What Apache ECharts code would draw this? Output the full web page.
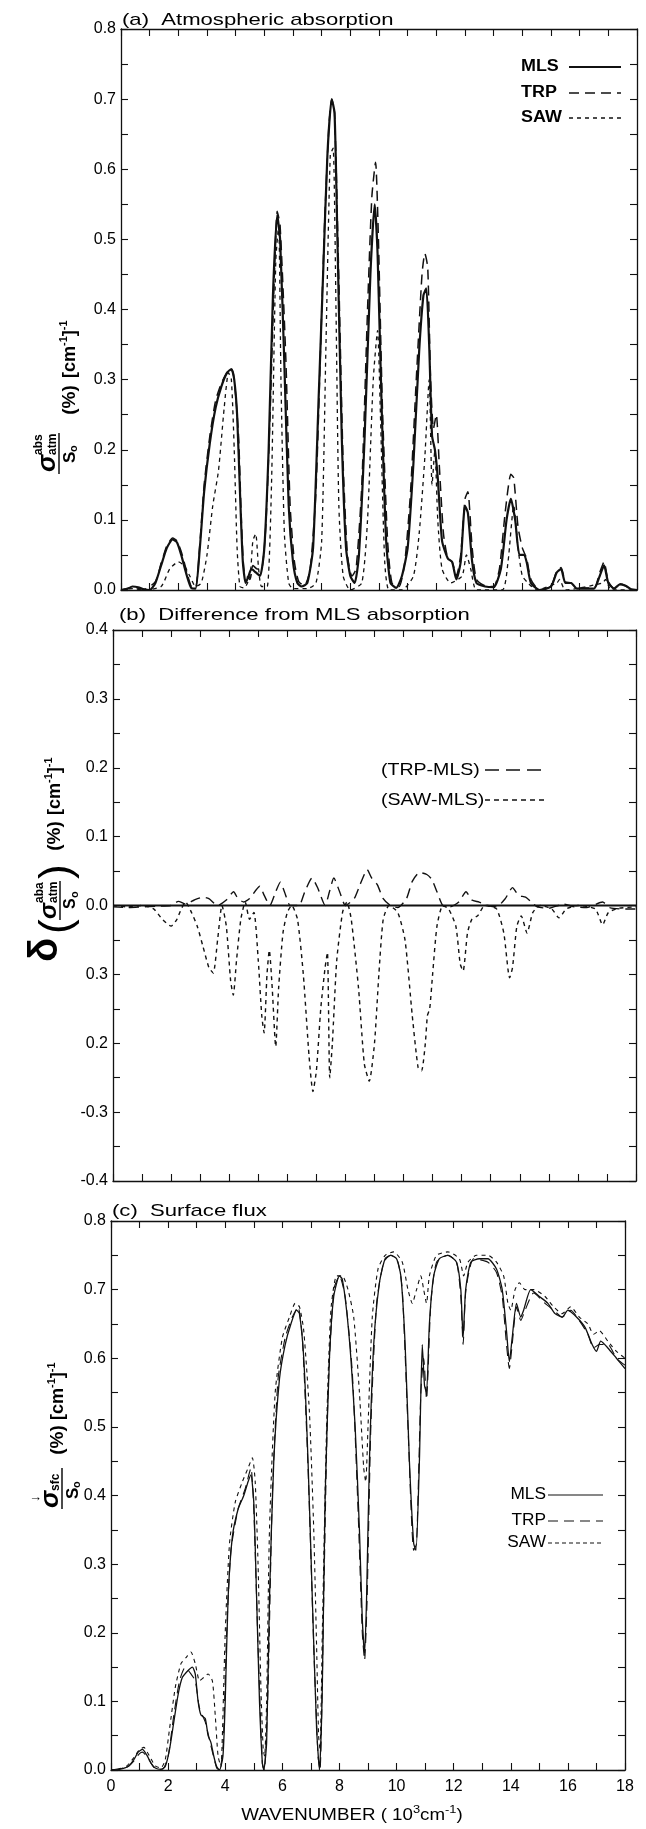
<!DOCTYPE html>
<html><head><meta charset="utf-8">
<script src="https://cdn.jsdelivr.net/npm/echarts/dist/echarts.min.js"></script>
<style>html,body{margin:0;padding:0;background:#fff}#c{width:646px;height:1829px}</style>
</head><body><div id="c"></div>
<script>
// ---------------- DATA ----------------
const xTickLabels = ['0','2','4','6','8','10','12','14','16','18'];
const yTickLabelsA = ['0.0','0.1','0.2','0.3','0.4','0.5','0.6','0.7','0.8'];
const yTickLabelsB = ['-0.4','-0.3','0.2','0.3','0.0','0.1','0.2','0.3','0.4'];
const yTickLabelsC = ['0.0','0.1','0.2','0.3','0.4','0.5','0.6','0.7','0.8'];

// (a) atmospheric absorption  [wavenumber (10^3 cm-1), value]
const mlsA = [[0,0],[0.2,0.001],[0.4,0.005],[0.6,0.004],[0.8,0.001],[1.0,0],[1.2,0.01],[1.4,0.035],[1.6,0.06],[1.8,0.072],[1.95,0.068],[2.1,0.05],[2.3,0.02],[2.45,0.003],[2.6,0.002],[2.75,0.06],[2.9,0.14],[3.1,0.21],[3.3,0.26],[3.5,0.29],[3.7,0.31],[3.85,0.315],[3.95,0.3],[4.05,0.25],[4.15,0.14],[4.25,0.04],[4.35,0.01],[4.45,0.02],[4.55,0.03],[4.7,0.025],[4.85,0.02],[5.0,0.06],[5.15,0.2],[5.3,0.42],[5.45,0.535],[5.55,0.5],[5.7,0.32],[5.85,0.12],[6.0,0.04],[6.15,0.01],[6.3,0.005],[6.5,0.01],[6.7,0.06],[6.9,0.28],[7.05,0.45],[7.2,0.62],[7.35,0.7],[7.45,0.68],[7.55,0.5],[7.7,0.22],[7.85,0.06],[8.0,0.02],[8.15,0.01],[8.3,0.05],[8.5,0.22],[8.7,0.45],[8.85,0.55],[8.95,0.48],[9.1,0.25],[9.25,0.07],[9.4,0.01],[9.6,0.003],[9.8,0.02],[10.0,0.06],[10.2,0.18],[10.4,0.34],[10.55,0.42],[10.65,0.43],[10.75,0.35],[10.85,0.22],[10.95,0.2],[11.05,0.16],[11.2,0.07],[11.4,0.045],[11.55,0.04],[11.7,0.015],[11.85,0.04],[12.0,0.12],[12.1,0.11],[12.25,0.04],[12.4,0.01],[12.7,0.005],[13.0,0.004],[13.25,0.03],[13.45,0.1],[13.6,0.13],[13.75,0.1],[13.9,0.05],[14.05,0.05],[14.15,0.04],[14.3,0.01],[14.6,0],[15.0,0.005],[15.2,0.025],[15.35,0.03],[15.5,0.01],[15.7,0.01],[15.9,0.002],[16.5,0.002],[16.7,0.02],[16.85,0.035],[17.0,0.01],[17.2,0.002],[17.4,0.008],[17.6,0.006],[17.8,0.001],[18,0]];
const trpA = [[0,0],[0.4,0.004],[0.8,0.001],[1.2,0.012],[1.4,0.038],[1.6,0.063],[1.8,0.074],[1.95,0.07],[2.1,0.055],[2.3,0.025],[2.45,0.005],[2.6,0.003],[2.75,0.065],[2.9,0.15],[3.1,0.22],[3.3,0.27],[3.5,0.295],[3.7,0.31],[3.85,0.315],[3.95,0.3],[4.1,0.22],[4.2,0.1],[4.3,0.025],[4.5,0.015],[4.6,0.035],[4.75,0.03],[4.9,0.03],[5.05,0.09],[5.2,0.25],[5.35,0.45],[5.45,0.54],[5.55,0.52],[5.75,0.33],[5.9,0.12],[6.05,0.04],[6.2,0.012],[6.4,0.006],[6.6,0.03],[6.8,0.14],[6.95,0.33],[7.1,0.52],[7.25,0.66],[7.35,0.7],[7.45,0.68],[7.6,0.44],[7.75,0.18],[7.9,0.05],[8.05,0.02],[8.2,0.03],[8.4,0.15],[8.6,0.4],[8.75,0.56],[8.88,0.61],[8.98,0.5],[9.12,0.26],[9.3,0.07],[9.45,0.01],[9.7,0.005],[9.9,0.04],[10.1,0.14],[10.3,0.3],[10.5,0.45],[10.6,0.48],[10.7,0.46],[10.8,0.3],[10.9,0.23],[11.0,0.25],[11.1,0.18],[11.25,0.08],[11.4,0.045],[11.55,0.04],[11.7,0.02],[11.85,0.05],[12.0,0.13],[12.1,0.14],[12.25,0.06],[12.4,0.015],[12.7,0.006],[13.0,0.005],[13.2,0.03],[13.4,0.11],[13.6,0.165],[13.7,0.16],[13.85,0.09],[14.0,0.06],[14.15,0.045],[14.3,0.015],[14.6,0],[15.0,0.005],[15.2,0.027],[15.35,0.032],[15.5,0.012],[15.7,0.01],[15.9,0.003],[16.5,0.003],[16.7,0.025],[16.85,0.04],[17.0,0.012],[17.2,0.002],[17.4,0.009],[17.6,0.006],[17.8,0.001],[18,0]];
const sawA = [[0,0],[0.4,0.002],[0.8,0],[1.4,0.005],[1.7,0.03],[2.0,0.04],[2.2,0.035],[2.4,0.02],[2.6,0.005],[2.8,0.01],[3.0,0.05],[3.2,0.12],[3.4,0.17],[3.6,0.26],[3.75,0.31],[3.85,0.3],[3.95,0.2],[4.05,0.06],[4.15,0.005],[4.3,0.003],[4.5,0.02],[4.6,0.07],[4.7,0.08],[4.8,0.03],[4.9,0.005],[5.1,0.005],[5.25,0.15],[5.4,0.47],[5.5,0.52],[5.58,0.3],[5.7,0.08],[5.85,0.01],[6.0,0.002],[6.5,0.002],[6.8,0.01],[7.0,0.07],[7.15,0.35],[7.3,0.62],[7.4,0.63],[7.5,0.4],[7.6,0.12],[7.75,0.02],[8.0,0],[8.4,0.01],[8.6,0.1],[8.8,0.3],[8.95,0.37],[9.05,0.25],[9.2,0.04],[9.35,0],[9.8,0],[10.2,0.02],[10.4,0.08],[10.6,0.19],[10.75,0.3],[10.85,0.15],[10.95,0.2],[11.05,0.1],[11.2,0.03],[11.5,0.01],[11.9,0.02],[12.05,0.05],[12.2,0.03],[12.4,0],[13.3,0],[13.5,0.04],[13.7,0.12],[13.85,0.06],[14.0,0.02],[14.2,0.01],[14.5,0],[15.2,0.01],[15.3,0.015],[15.5,0],[16.8,0.01],[16.9,0.015],[17.1,0],[18,0]];

// (b) differences from MLS
const trpMinusMls = [[0,-0.002],[0.5,-0.003],[1.0,-0.002],[1.5,-0.001],[2.0,0.0],[2.25,0.006],[2.5,0.002],[2.8,0.008],[3.1,0.012],[3.3,0.01],[3.6,0.0],[3.9,0.008],[4.15,0.02],[4.3,0.01],[4.5,0.005],[4.7,0.01],[5.05,0.028],[5.2,0.015],[5.4,0.0],[5.6,0.02],[5.76,0.034],[5.9,0.02],[6.1,0.0],[6.4,0.0],[6.6,0.02],[6.85,0.04],[7.05,0.025],[7.3,0.0],[7.45,0.02],[7.6,0.04],[7.8,0.02],[8.0,0.0],[8.3,0.01],[8.5,0.03],[8.75,0.052],[8.9,0.04],[9.1,0.03],[9.3,0.01],[9.55,0.0],[9.8,-0.003],[10.1,0.01],[10.3,0.035],[10.55,0.048],[10.8,0.045],[10.97,0.038],[11.15,0.02],[11.35,0.0],[11.6,-0.002],[11.9,0.005],[12.15,0.02],[12.35,0.008],[12.6,0.005],[12.9,0.0],[13.2,-0.002],[13.5,0.01],[13.75,0.026],[13.95,0.015],[14.2,0.012],[14.4,0.005],[14.6,-0.002],[15.0,-0.004],[15.5,0.002],[15.9,-0.002],[16.3,-0.003],[16.85,0.005],[17.1,-0.003],[17.5,-0.005],[18,-0.005]];
const sawMinusMls = [[0,0],[0.5,-0.002],[1.0,0],[1.4,-0.005],[1.7,-0.02],[2.0,-0.03],[2.2,-0.02],[2.35,-0.005],[2.5,0.005],[2.7,-0.01],[2.9,-0.03],[3.1,-0.06],[3.3,-0.09],[3.45,-0.098],[3.6,-0.05],[3.75,0],[3.9,-0.03],[4.05,-0.11],[4.14,-0.13],[4.25,-0.08],[4.4,-0.02],[4.55,0.005],[4.7,-0.02],[4.85,-0.01],[5.0,-0.08],[5.12,-0.16],[5.2,-0.185],[5.3,-0.1],[5.38,-0.065],[5.48,-0.12],[5.6,-0.205],[5.7,-0.12],[5.85,-0.04],[6.0,-0.01],[6.15,0],[6.35,-0.02],[6.55,-0.1],[6.75,-0.22],[6.88,-0.27],[7.0,-0.24],[7.15,-0.15],[7.3,-0.09],[7.38,-0.068],[7.46,-0.25],[7.55,-0.2],[7.7,-0.08],[7.9,-0.01],[8.05,0.005],[8.2,-0.02],[8.45,-0.12],[8.65,-0.23],[8.82,-0.255],[9.0,-0.2],[9.15,-0.1],[9.3,-0.02],[9.5,0.0],[9.8,-0.01],[10.05,-0.05],[10.3,-0.16],[10.5,-0.235],[10.62,-0.24],[10.75,-0.2],[10.82,-0.16],[10.9,-0.15],[11.0,-0.1],[11.15,-0.03],[11.35,0],[11.55,-0.005],[11.8,-0.03],[11.95,-0.085],[12.05,-0.095],[12.2,-0.04],[12.35,-0.02],[12.55,-0.015],[12.8,0],[13.2,-0.005],[13.45,-0.04],[13.65,-0.105],[13.75,-0.09],[13.9,-0.03],[14.05,-0.015],[14.25,-0.04],[14.45,-0.01],[14.7,0],[15.1,-0.005],[15.35,-0.018],[15.6,-0.005],[16.0,0],[16.6,-0.005],[16.85,-0.028],[17.05,-0.01],[17.4,-0.004],[18,-0.002]];
const zeroB = [[0,0],[18,0]];

// (c) surface flux
const mlsC = [[0,0],[0.3,0.001],[0.6,0.005],[0.8,0.015],[0.95,0.026],[1.1,0.03],[1.25,0.022],[1.4,0.01],[1.55,0.003],[1.75,0.001],[1.9,0.005],[2.05,0.03],[2.2,0.07],[2.35,0.11],[2.5,0.135],[2.7,0.145],[2.85,0.15],[2.95,0.14],[3.05,0.1],[3.15,0.08],[3.3,0.075],[3.4,0.05],[3.5,0.04],[3.6,0.02],[3.7,0.005],[3.8,0],[3.92,0.02],[4.0,0.1],[4.1,0.25],[4.25,0.34],[4.45,0.38],[4.65,0.4],[4.8,0.42],[4.9,0.43],[5.0,0.39],[5.1,0.25],[5.2,0.1],[5.3,0.01],[5.35,0],[5.45,0.04],[5.55,0.25],[5.7,0.45],[5.9,0.57],[6.1,0.62],[6.3,0.65],[6.5,0.67],[6.6,0.665],[6.75,0.6],[6.9,0.45],[7.05,0.25],[7.2,0.06],[7.3,0],[7.4,0.12],[7.5,0.4],[7.65,0.6],[7.8,0.69],[8.0,0.72],[8.1,0.715],[8.25,0.67],[8.4,0.6],[8.55,0.5],[8.7,0.35],[8.8,0.22],[8.88,0.17],[8.95,0.25],[9.05,0.45],[9.2,0.62],[9.4,0.71],[9.6,0.745],[9.8,0.75],[10.0,0.745],[10.15,0.72],[10.3,0.62],[10.45,0.45],[10.6,0.33],[10.68,0.32],[10.8,0.45],[10.9,0.62],[10.98,0.56],[11.05,0.55],[11.15,0.65],[11.3,0.72],[11.5,0.745],[11.8,0.75],[12.1,0.74],[12.25,0.7],[12.33,0.63],[12.42,0.7],[12.6,0.74],[12.9,0.745],[13.2,0.745],[13.5,0.73],[13.7,0.7],[13.85,0.64],[13.95,0.595],[14.05,0.63],[14.2,0.68],[14.35,0.66],[14.45,0.67],[14.7,0.7],[15.0,0.69],[15.3,0.68],[15.55,0.665],[15.8,0.66],[16.0,0.67],[16.3,0.66],[16.6,0.645],[16.85,0.62],[17.0,0.61],[17.15,0.625],[17.4,0.615],[17.7,0.6],[18,0.585]];
const trpC = [[0,0],[0.6,0.005],[0.8,0.013],[1.0,0.024],[1.1,0.026],[1.3,0.017],[1.5,0.004],[1.8,0.001],[2.0,0.02],[2.2,0.08],[2.4,0.13],[2.6,0.15],[2.8,0.14],[2.95,0.13],[3.1,0.09],[3.3,0.07],[3.5,0.035],[3.7,0.003],[3.8,0],[3.92,0.03],[4.05,0.2],[4.2,0.32],[4.45,0.38],[4.7,0.41],[4.9,0.44],[5.0,0.38],[5.15,0.18],[5.3,0.01],[5.37,0],[5.5,0.12],[5.65,0.4],[5.85,0.57],[6.1,0.63],[6.35,0.66],[6.55,0.675],[6.7,0.63],[6.9,0.44],[7.1,0.18],[7.25,0.02],[7.32,0],[7.45,0.25],[7.6,0.55],[7.8,0.7],[8.0,0.72],[8.2,0.69],[8.45,0.58],[8.65,0.38],[8.8,0.2],[8.88,0.16],[8.97,0.25],[9.1,0.5],[9.3,0.68],[9.55,0.74],[9.8,0.75],[10.05,0.74],[10.2,0.7],[10.4,0.5],[10.6,0.32],[10.7,0.33],[10.85,0.55],[10.95,0.6],[11.05,0.54],[11.2,0.68],[11.4,0.74],[11.8,0.75],[12.1,0.74],[12.25,0.69],[12.33,0.62],[12.43,0.7],[12.7,0.745],[13.2,0.74],[13.5,0.725],[13.7,0.69],[13.85,0.62],[13.95,0.585],[14.05,0.62],[14.2,0.675],[14.35,0.655],[14.5,0.67],[14.8,0.695],[15.2,0.68],[15.5,0.67],[15.8,0.66],[16.1,0.67],[16.4,0.655],[16.7,0.635],[16.9,0.615],[17.1,0.62],[17.4,0.62],[17.7,0.6],[18,0.59]];
const sawC = [[0,0],[0.5,0.004],[0.8,0.018],[1.0,0.03],[1.15,0.033],[1.35,0.02],[1.55,0.006],[1.75,0.003],[1.9,0.015],[2.05,0.06],[2.25,0.12],[2.45,0.155],[2.65,0.165],[2.8,0.172],[2.95,0.155],[3.1,0.13],[3.25,0.135],[3.4,0.14],[3.55,0.13],[3.65,0.08],[3.75,0.02],[3.85,0.005],[3.9,0.05],[4.0,0.2],[4.15,0.33],[4.35,0.39],[4.6,0.42],[4.8,0.44],[4.95,0.455],[5.05,0.42],[5.15,0.3],[5.25,0.12],[5.33,0.03],[5.38,0.02],[5.45,0.1],[5.55,0.35],[5.75,0.55],[6.0,0.63],[6.25,0.66],[6.45,0.68],[6.6,0.675],[6.75,0.64],[6.95,0.52],[7.1,0.35],[7.2,0.18],[7.27,0.05],[7.32,0.03],[7.4,0.2],[7.55,0.5],[7.7,0.67],[7.9,0.72],[8.1,0.72],[8.3,0.7],[8.5,0.66],[8.7,0.55],[8.85,0.44],[8.92,0.42],[9.0,0.5],[9.15,0.66],[9.35,0.73],[9.6,0.75],[9.9,0.755],[10.2,0.74],[10.4,0.7],[10.55,0.68],[10.7,0.7],[10.85,0.72],[10.95,0.7],[11.05,0.68],[11.15,0.72],[11.4,0.75],[11.8,0.755],[12.2,0.745],[12.35,0.72],[12.5,0.74],[12.8,0.75],[13.2,0.75],[13.5,0.74],[13.75,0.72],[13.9,0.68],[14.0,0.67],[14.15,0.7],[14.3,0.71],[14.5,0.7],[14.8,0.7],[15.2,0.69],[15.5,0.675],[15.8,0.665],[16.1,0.675],[16.4,0.66],[16.7,0.65],[16.9,0.635],[17.1,0.64],[17.4,0.625],[17.7,0.61],[18,0.6]];

// ---------------- LAYOUT / STYLE ----------------
const INK = '#111';
const FONT = '"Liberation Sans", Arial, Helvetica, sans-serif';
const LONG = [10, 6], SHORT = [4, 4];
const grids = [
  {left:121, top:29, width:516, height:561},
  {left:113, top:630, width:523, height:551},
  {left:111, top:1221, width:514, height:549}
];
const yRanges = [[0,0.8],[-0.4,0.4],[0,0.8]];
const yLabelSets = [yTickLabelsA, yTickLabelsB, yTickLabelsC];

const cv = document.createElement('canvas').getContext('2d');
function tw(t, f){ cv.font = f; return cv.measureText(t).width; }
function T(text, x, y, font, align, sx){
  const a = align || 'left';
  const el = {type:'text', x:x, y:y, silent:true, style:{text:text, font:font, fill:'#000', textAlign:a, align:a, textVerticalAlign:'middle', verticalAlign:'middle'}};
  if (sx) el.scaleX = sx;
  return el;
}
function L(x1,y1,x2,y2,dash,w){
  return {type:'line', silent:true, shape:{x1:x1,y1:y1,x2:x2,y2:y2}, style:{stroke:INK, lineWidth:w||1.4, lineDash:dash||null}};
}
function flow(items, x0, yc, sx){
  const s = sx || 1; let x = x0; const out = [];
  items.forEach(it => { out.push(T(it.t, x, yc + (it.dy||0), it.f, 'left', sx)); x += (tw(it.t, it.f) + (it.gap||0)) * s; });
  return out;
}
function flowW(items, sx){ return items.reduce((s,it)=>s+tw(it.t,it.f)+(it.gap||0),0) * (sx||1); }
const B = (s) => 'bold ' + s + 'px ' + FONT;
const cmItems = [{t:'[cm',f:B(18)},{t:'-1',f:B(11),dy:-6},{t:']',f:B(18)},{t:'-1',f:B(11),dy:-6}];

const xAxes = [], yAxes = [];
grids.forEach((g, gi) => {
  ['bottom','top'].forEach(pos => {
    const lab = (gi === 2 && pos === 'bottom');
    xAxes.push({type:'value', gridIndex:gi, position:pos, min:0, max:18, interval:1,
      axisLine:{show:true, onZero:false, lineStyle:{color:INK, width:1.3}},
      axisTick:{show:true, inside:true, length:7, lineStyle:{color:INK, width:1.1}},
      splitLine:{show:false},
      axisLabel: lab ? {show:true, margin:9, fontSize:16, color:'#000', fontFamily:FONT,
        formatter: v => { const r = Math.round(v); return r % 2 === 0 ? xTickLabels[r/2] : ''; }} : {show:false}
    });
  });
  ['left','right'].forEach(pos => {
    const lab = pos === 'left';
    const r = yRanges[gi], labels = yLabelSets[gi];
    yAxes.push({type:'value', gridIndex:gi, position:pos, min:r[0], max:r[1], interval:0.1,
      axisLine:{show:true, onZero:false, lineStyle:{color:INK, width:1.3}},
      axisTick:{show:true, inside:true, length:7, lineStyle:{color:INK, width:1.1}},
      minorTick:{show:true, splitNumber:2, length:7, lineStyle:{color:INK, width:1.1}},
      splitLine:{show:false}, minorSplitLine:{show:false},
      axisLabel: lab ? {show:true, margin:5, fontSize:16, color:'#000', fontFamily:FONT,
        formatter: v => labels[Math.round((v - r[0]) / 0.1)]} : {show:false}
    });
  });
});

function ser(name, data, gi, dash, w){
  return {name:name, type:'line', data:data, xAxisIndex:gi*2, yAxisIndex:gi*2, showSymbol:false, symbol:'none',
    smooth:0.2, silent:true, clip:true, lineStyle:{color:INK, width:w, type: dash || 'solid'}};
}
const series = [
  ser('MLS', mlsA, 0, null, 2.2), ser('TRP', trpA, 0, LONG, 1.5), ser('SAW', sawA, 0, SHORT, 1.3),
  ser('MLS', zeroB, 1, null, 2.2), ser('(TRP-MLS)', trpMinusMls, 1, LONG, 1.4), ser('(SAW-MLS)', sawMinusMls, 1, SHORT, 1.4),
  ser('MLS', mlsC, 2, null, 1.3), ser('TRP', trpC, 2, LONG, 1.1), ser('SAW', sawC, 2, SHORT, 1.1)
];

// ---- graphics: titles, legends, axis names ----
const g = [];
g.push(T('(a)  Atmospheric absorption', 122, 20, '17px ' + FONT, 'left', 1.3));
g.push(T('(b)  Difference from MLS absorption', 119, 615, '17px ' + FONT, 'left', 1.3));
g.push(T('(c)  Surface flux', 112, 1211, '17px ' + FONT, 'left', 1.3));

// legend (a)
[['MLS',67,null],['TRP',93,LONG],['SAW',118,SHORT]].forEach(r => {
  g.push(T(r[0], 521, r[1], B(16), 'left', 1.12));
  g.push(L(569, r[1], 621, r[1], r[2], r[2] ? 1.5 : 2.2));
});
// legend (b)
[['(TRP-MLS)',770,[14,7]],['(SAW-MLS)',800,[5,4]]].forEach(r => {
  g.push(T(r[0], 381, r[1], '17px ' + FONT, 'left', 1.15));
  g.push(L(485, r[1], 545, r[1], r[2], 1.5));
});
// legend (c)
[['MLS',1495,null],['TRP',1521,[10,6]],['SAW',1543,[4,3]]].forEach(r => {
  g.push(T(r[0], 546, r[1], '16px ' + FONT, 'right', 1.08));
  g.push(L(548, r[1], 603, r[1], r[2], 1.2));
});

// y-axis name (a)
g.push({type:'group', x:59, y:395, rotation:Math.PI/2, children:[
  T('σ', -77, -11, 'italic bold 26px ' + FONT),
  T('abs', -60, -20, B(12)),
  T('atm', -60, -6, B(12)),
  L(-79, 0, -38, 0, null, 1.5),
  T('S', -68, 11, B(17)),
  T('o', -57, 15, B(11)),
  T('(%)', -5, 11, B(19), 'center'),
  ...flow(cmItems, 17, 11)
]});
// y-axis name (b)
g.push({type:'group', x:60, y:890, rotation:Math.PI/2, children:[
  T('δ', -72, -14, 'bold 40px ' + FONT),
  T('(', -44, -2, '44px ' + FONT),
  T('σ', -29, -11, 'italic bold 24px ' + FONT),
  T('aba', -13, -20, B(12)),
  T('atm', -13, -6, B(12)),
  L(-30, 0, 9, 0, null, 1.5),
  T('S', -19, 11, B(16)),
  T('o', -8, 15, B(11)),
  T(')', 11, -2, '44px ' + FONT),
  T('(%)', 54, -5, B(19), 'center'),
  ...flow(cmItems, 75, -5)
]});
// y-axis name (c)
g.push({type:'group', x:62, y:1440, rotation:Math.PI/2, children:[
  T('↓', -62, -27, B(13)),
  T('σ', -68, -11, 'italic bold 26px ' + FONT),
  T('sfc', -51, -6, B(12)),
  L(-69, 0, -28, 0, null, 1.5),
  T('S', -59, 11, B(17)),
  T('o', -48, 15, B(11)),
  T('(%)', 0, -4, B(19), 'center'),
  ...flow(cmItems, 20, -4)
]});
// x-axis name
const XS = 1.17;
const xn = [{t:'WAVENUMBER ( 10',f:'16px '+FONT},{t:'3',f:'11px '+FONT,dy:-6},{t:'cm',f:'16px '+FONT},{t:'-1',f:'11px '+FONT,dy:-6},{t:')',f:'16px '+FONT}];
g.push(...flow(xn, 352 - flowW(xn, XS)/2, 1816, XS));

const chart = echarts.init(document.getElementById('c'), null, {renderer:'canvas'});
chart.setOption({
  animation:false, backgroundColor:'#fff',
  grid: grids, xAxis: xAxes, yAxis: yAxes, series: series, graphic: g
});
</script></body></html>
